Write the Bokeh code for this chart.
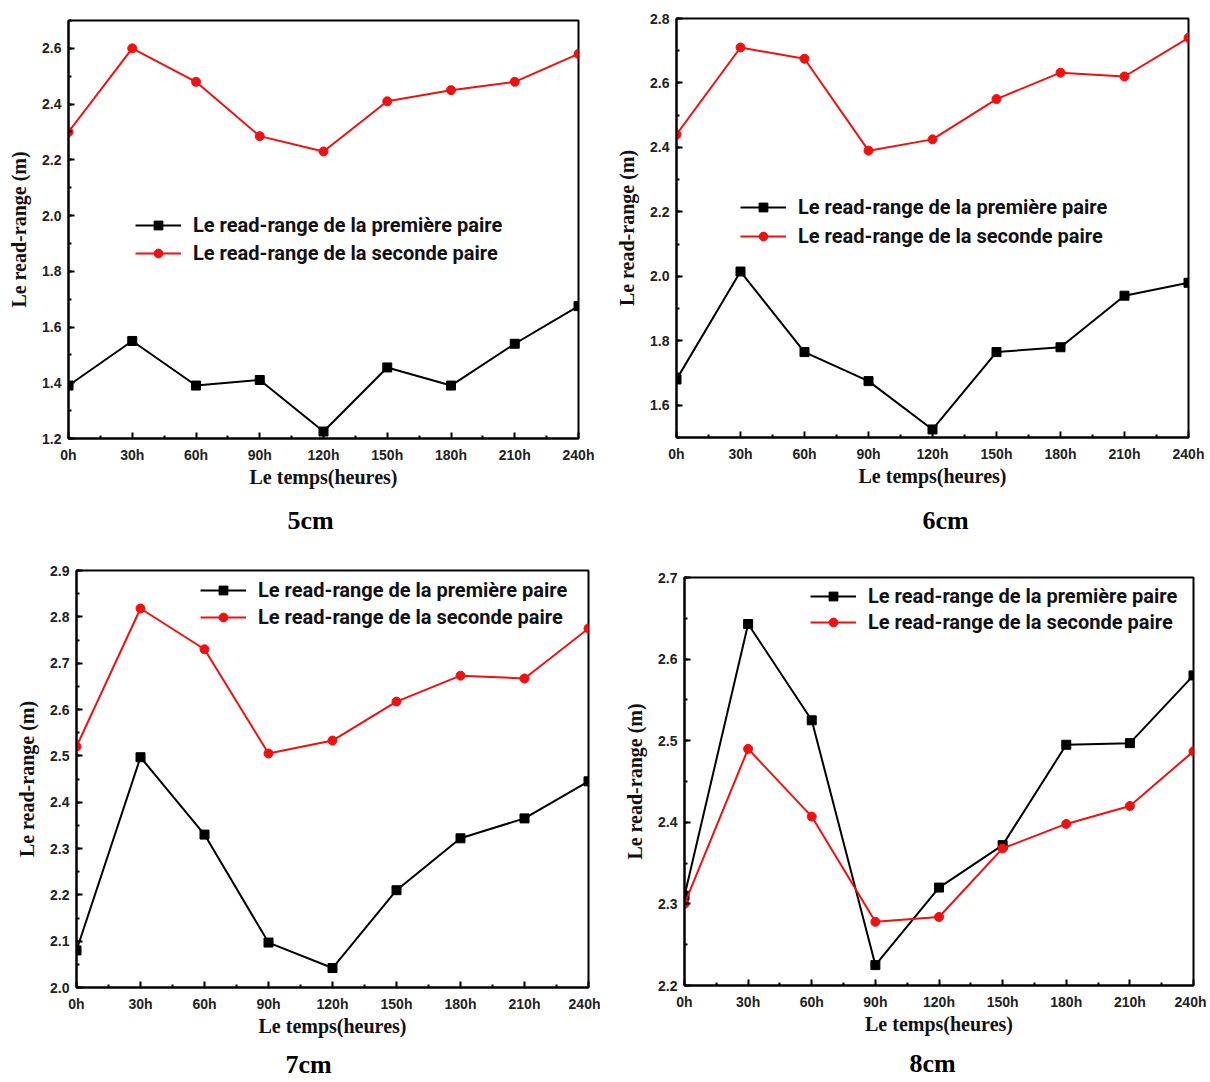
from bokeh.plotting import figure
from bokeh.models import Range1d, FixedTicker, Title, Legend, LegendItem
from bokeh.layouts import row, column
from bokeh.embed import file_html
from bokeh.resources import INLINE

# ---- data ----
hours = [0, 30, 60, 90, 120, 150, 180, 210, 240]
hour_labels = ["0h", "30h", "60h", "90h", "120h", "150h", "180h", "210h", "240h"]

black_5cm = [1.39, 1.55, 1.39, 1.41, 1.225, 1.455, 1.39, 1.54, 1.675]
red_5cm = [2.30, 2.60, 2.48, 2.285, 2.23, 2.41, 2.45, 2.48, 2.58]

black_6cm = [1.68, 2.015, 1.765, 1.675, 1.525, 1.765, 1.78, 1.94, 1.98]
red_6cm = [2.44, 2.71, 2.675, 2.39, 2.425, 2.55, 2.632, 2.62, 2.74]

black_7cm = [2.08, 2.497, 2.33, 2.097, 2.042, 2.21, 2.322, 2.365, 2.445]
red_7cm = [2.52, 2.818, 2.73, 2.505, 2.533, 2.617, 2.673, 2.667, 2.775]

black_8cm = [2.31, 2.643, 2.525, 2.225, 2.32, 2.372, 2.495, 2.497, 2.58]
red_8cm = [2.30, 2.49, 2.407, 2.278, 2.284, 2.368, 2.398, 2.42, 2.487]

yticks_5cm = [1.2, 1.4, 1.6, 1.8, 2.0, 2.2, 2.4, 2.6]
yticks_6cm = [1.6, 1.8, 2.0, 2.2, 2.4, 2.6, 2.8]
yticks_7cm = [2.0, 2.1, 2.2, 2.3, 2.4, 2.5, 2.6, 2.7, 2.8, 2.9]
yticks_8cm = [2.2, 2.3, 2.4, 2.5, 2.6, 2.7]

label_first = "Le read-range de la première paire"
label_second = "Le read-range de la seconde paire"
RED = "#f01010"


def panel(title, black, red, yr, yticks, ystep, frame_wh, borders, leg_xy,
          leg_spacing, title_x, spacer):
    left, right, top, bottom = borders
    fw, fh = frame_wh
    p = figure(frame_width=fw, frame_height=fh, output_backend="svg",
               toolbar_location=None,
               x_range=Range1d(0, 240), y_range=Range1d(*yr),
               min_border_left=left, min_border_right=right,
               min_border_top=top, min_border_bottom=bottom)
    p.xgrid.visible = False
    p.ygrid.visible = False
    p.outline_line_color = "black"
    p.outline_line_width = 2
    p.background_fill_color = "white"
    p.border_fill_color = "white"

    xminor = [h + 15 for h in hours[:-1]]
    p.xaxis.ticker = FixedTicker(ticks=hours, minor_ticks=xminor)
    p.xaxis.major_label_overrides = {h: l for h, l in zip(hours, hour_labels)}
    n = int(round((yr[1] - yr[0]) / (ystep / 2)))
    yminor = [round(yr[0] + i * ystep / 2, 4) for i in range(n + 1)]
    p.yaxis.ticker = FixedTicker(ticks=yticks, minor_ticks=yminor)
    p.yaxis.major_label_overrides = {t: "%.1f" % t for t in yticks}

    for ax in (p.xaxis[0], p.yaxis[0]):
        ax.axis_line_width = 2
        ax.major_tick_in = 6
        ax.major_tick_out = 0
        ax.minor_tick_in = 3
        ax.minor_tick_out = 0
        ax.major_tick_line_width = 2
        ax.minor_tick_line_width = 2
        ax.major_label_text_font = "Liberation Sans"
        ax.major_label_text_font_style = "bold"
        ax.major_label_text_font_size = "14px"
        ax.major_label_text_color = "#222222"
        ax.axis_label_text_font = "Liberation Serif"
        ax.axis_label_text_font_style = "bold"
        ax.axis_label_text_font_size = "20px"
        ax.axis_label_text_color = "#111111"
    p.xaxis.axis_label = "Le temps(heures)"
    p.xaxis.major_label_standoff = 8
    p.xaxis.axis_label_standoff = 0
    p.yaxis.axis_label = "Le read-range (m)"
    p.yaxis.major_label_standoff = 7
    p.yaxis.axis_label_standoff = 9

    lb = p.line(hours, black, line_color="black", line_width=2)
    sb = p.scatter(hours, black, marker="square", size=9, color="black")
    lr = p.line(hours, red, line_color=RED, line_width=2)
    sr = p.scatter(hours, red, marker="circle", size=9, color=RED)

    leg = Legend(items=[LegendItem(label=label_first, renderers=[lb, sb]),
                        LegendItem(label=label_second, renderers=[lr, sr])],
                 location=leg_xy, padding=0, margin=0, spacing=leg_spacing,
                 glyph_width=46, glyph_height=22, label_height=22,
                 label_standoff=12, border_line_color=None,
                 background_fill_alpha=0,
                 label_text_font="Roboto",
                 label_text_font_style="bold",
                 label_text_font_size="20px",
                 label_text_color="#111111")
    p.add_layout(leg, "center")

    p.add_layout(Title(text=" ", text_font_size="1px", standoff=spacer), "below")
    t = Title(text=title, align="left", text_font="Liberation Serif",
              text_font_style="bold", text_font_size="26px", offset=title_x,
              standoff=0, text_color="black")
    p.add_layout(t, "below")
    return p


p1 = panel("5cm", black_5cm, red_5cm, (1.2, 2.7), yticks_5cm, 0.2, (510, 418),
           (68, 22, 20, 103), (67, 173), 4, 219, 10)
p2 = panel("6cm", black_6cm, red_6cm, (1.5, 2.8), yticks_6cm, 0.2, (512, 419),
           (76, 16, 18, 104), (64, 189), 5, 246, 11)
p3 = panel("7cm", black_7cm, red_7cm, (2.0, 2.9), yticks_7cm, 0.1, (512, 417),
           (76, 12, 29, 94), (124, 358), 3, 209, 5)
p4 = panel("8cm", black_8cm, red_8cm, (2.2, 2.7), yticks_8cm, 0.1, (509, 408),
           (84, 13, 36, 96), (126, 351), 2, 225, 6)

layout = column(row(column(p1), column(p2)), row(column(p3), column(p4)))
open("out.html", "w").write(file_html(layout, INLINE))
